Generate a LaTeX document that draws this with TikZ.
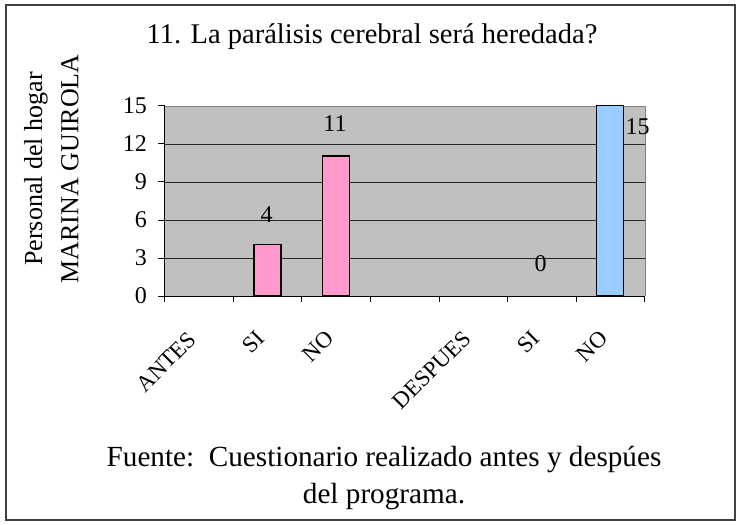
\documentclass[tikz,border=0pt]{standalone}
\usepackage{fontspec}
\setmainfont{Liberation Serif}
\begin{document}
\begin{tikzpicture}[x=1pt,y=-1pt,
  ticktxt/.style={inner sep=0pt,font=\fontsize{24}{26}\selectfont},
  datatxt/.style={inner sep=0pt,font=\fontsize{24}{26}\selectfont},
  bigtxt/.style={inner sep=0pt,font=\fontsize{28.5}{32}\selectfont},
  foottxt/.style={inner sep=0pt,font=\fontsize{29.2}{32}\selectfont},
  ytxt/.style={inner sep=0pt,font=\fontsize{26}{30}\selectfont,rotate=90},
  xlab/.style={inner sep=0pt,font=\fontsize{23}{26}\selectfont,rotate=45,anchor=north east},
  gridline/.style={black!85,line width=0.7pt},
  pinkbar/.style={fill=barpink,draw=black,line width=1.3pt},
  bluebar/.style={fill=barblue,draw=black,line width=1.3pt}]
\definecolor{barpink}{HTML}{FF99CC}
\definecolor{barblue}{HTML}{99CCFF}
\definecolor{plotgray}{HTML}{C0C0C0}
\useasboundingbox (0,0) rectangle (740,525);
\fill[white] (0,0) rectangle (740,525);
\draw[line width=1.6pt,black!75] (6,5) rectangle (735,520);
% plot area
\fill[plotgray] (164.7,106) rectangle (645,296);
\draw[black!50,line width=0.9pt] (164.7,106) -- (645,106) -- (645,296);
\foreach \v in {3,6,9,12} {\draw[gridline] (164.7,{296-\v*12.667}) -- (645,{296-\v*12.667});}
% bars
\node[pinkbar,minimum width=27,minimum height=50.7,inner sep=0,anchor=south] (b1) at (267.6,296) {};
\node[pinkbar,minimum width=27,minimum height=139.3,inner sep=0,anchor=south] (b2) at (336.2,296) {};
\node[bluebar,minimum width=27,minimum height=190,inner sep=0,anchor=south] (b3) at (609.8,296) {};
% axes
\draw[line width=1pt] (164.7,106) -- (164.7,296) -- (645,296);
\foreach \v in {0,3,6,9,12,15} {
  \draw[line width=1pt] (158,{296-\v*12.667}) -- (164.7,{296-\v*12.667});
  \node[ticktxt,anchor=east] (y\v) at (147,{296-\v*12.667}) {\v};
}
\foreach \i in {0,...,7} {\draw[line width=1pt] ({164.7+\i*68.61},296) -- ({164.7+\i*68.61},302);}
% data labels
\node[datatxt] (l1) at (266.7,214.5) {4};
\node[datatxt] (l2) at (335,124) {11};
\node[datatxt] (l3) at (540.5,264) {0};
\node[datatxt] (l4) at (637.5,127) {15};
% x labels
\node[xlab] (x1) at (187,330) {ANTES};
\node[xlab] (x2) at (255.6,329) {SI};
\node[xlab] (x3) at (324.2,329) {NO};
\node[xlab] (x5) at (461.4,329) {DESPUES};
\node[xlab] (x6) at (530,329) {SI};
\node[xlab] (x7) at (598.6,329) {NO};
% title
\node[bigtxt,anchor=base] (title) at (372,43.3) {11. La parálisis cerebral será heredada?};
\node[ytxt] (yt1) at (36,169) {Personal del hogar};
\node[ytxt] (yt2) at (70,169) {MARINA GUIROLA};
\node[foottxt,anchor=base] (f1) at (384,466) {Fuente:\ \ Cuestionario realizado antes y despúes};
\node[foottxt,anchor=base] (f2) at (384,503) {del programa.};
\end{tikzpicture}
\end{document}
